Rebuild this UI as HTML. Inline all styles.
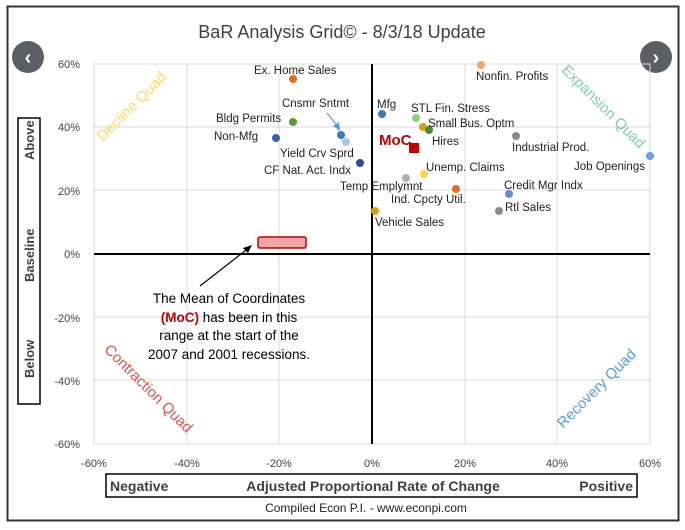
<!DOCTYPE html>
<html><head><style>
body{margin:0;background:#fff;font-family:"Liberation Sans",sans-serif;}
</style></head><body>
<svg width="685" height="525" xmlns="http://www.w3.org/2000/svg" font-family="Liberation Sans, sans-serif">
<rect x="0" y="0" width="685" height="525" fill="#fff"/>
<rect x="7.5" y="6.5" width="671" height="514" fill="#fff" stroke="#333" stroke-width="2"/>
<text x="342" y="38" font-size="18" text-anchor="middle" fill="#404040">BaR Analysis Grid© - 8/3/18 Update</text>
<!-- nav circles -->
<circle cx="28" cy="57" r="16" fill="#5a5f66"/><text x="28" y="64" font-size="20" font-weight="bold" text-anchor="middle" fill="#fff">‹</text>
<circle cx="656" cy="57" r="16" fill="#5a5f66"/><text x="656" y="64" font-size="20" font-weight="bold" text-anchor="middle" fill="#fff">›</text>
<!-- grid -->
<g stroke="#d9d9d9" stroke-width="1">
<rect x="94" y="64" width="556" height="380" fill="none"/>
<line x1="187" y1="64" x2="187" y2="444"/><line x1="279" y1="64" x2="279" y2="444"/>
<line x1="465" y1="64" x2="465" y2="444"/><line x1="557" y1="64" x2="557" y2="444"/>
<line x1="94" y1="127" x2="650" y2="127"/><line x1="94" y1="190" x2="650" y2="190"/>
<line x1="94" y1="317" x2="650" y2="317"/><line x1="94" y1="380" x2="650" y2="380"/>
</g>
<line x1="372" y1="64" x2="372" y2="444" stroke="#000" stroke-width="2"/>
<line x1="94" y1="254" x2="650" y2="254" stroke="#000" stroke-width="2"/>
<g font-size="11" fill="#404040" text-anchor="end">
<text x="80" y="68">60%</text><text x="80" y="131">40%</text><text x="80" y="195">20%</text>
<text x="80" y="258">0%</text><text x="80" y="322">-20%</text><text x="80" y="385">-40%</text><text x="80" y="448">-60%</text>
</g>
<g font-size="11" fill="#404040" text-anchor="middle">
<text x="94" y="467">-60%</text><text x="187" y="467">-40%</text><text x="279" y="467">-20%</text><text x="372" y="467">0%</text>
<text x="465" y="467">20%</text><text x="557" y="467">40%</text><text x="650" y="467">60%</text>
</g>
<!-- quadrant labels -->
<text x="135" y="110" font-size="15" fill="#ffd966" text-anchor="middle" transform="rotate(-45 135 110)">Decline Quad</text>
<text x="600" y="110" font-size="15" fill="#7fd1a0" text-anchor="middle" transform="rotate(45 600 110)">Expansion Quad</text>
<text x="145" y="392" font-size="15" fill="#d9534f" text-anchor="middle" transform="rotate(45 145 392)">Contraction Quad</text>
<text x="600" y="392" font-size="15" fill="#5b9bd5" text-anchor="middle" transform="rotate(-45 600 392)">Recovery Quad</text>
<!-- axis boxes -->
<rect x="18" y="118" width="22" height="286" fill="#fff" stroke="#000" stroke-width="1.5"/>
<g font-size="13" font-weight="bold" fill="#404040">
<text transform="translate(34 378) rotate(-90)">Below</text>
<text transform="translate(34 282) rotate(-90)">Baseline</text>
<text transform="translate(34 160) rotate(-90)">Above</text>
</g>
<rect x="106" y="474" width="531" height="23" fill="#fff" stroke="#000" stroke-width="1.5"/>
<g font-size="14" font-weight="bold" fill="#404040">
<text x="110" y="491">Negative</text>
<text x="373" y="491" text-anchor="middle">Adjusted Proportional Rate of Change</text>
<text x="633" y="491" text-anchor="end">Positive</text>
</g>
<text x="366" y="512" font-size="12" text-anchor="middle" fill="#222">Compiled Econ P.I. - www.econpi.com</text>
<!-- MoC range -->
<rect x="258" y="237" width="48" height="11" rx="2" fill="#f4a6a6" stroke="#c00000" stroke-width="1.5"/>
<line x1="200" y1="286" x2="250" y2="247" stroke="#000" stroke-width="1.2"/>
<polygon points="252,245 243,248 248,253" fill="#000"/>
<g font-size="13.5" fill="#000" text-anchor="middle">
<text x="229" y="303">The Mean of Coordinates</text>
<text x="229" y="322"><tspan fill="#c00000" font-weight="bold">(MoC)</tspan> has been in this</text>
<text x="229" y="340">range at the start of the</text>
<text x="229" y="359">2007 and 2001 recessions.</text>
</g>
<!-- arrow cnsmr -->
<line x1="327" y1="113" x2="338" y2="127" stroke="#5b9bd5" stroke-width="1.2"/>
<polygon points="340,131 333,126 339,122" fill="#5b9bd5"/>
<!-- points -->
<g>
<circle cx="293" cy="79" r="4" fill="#e07020"/>
<circle cx="481" cy="65" r="4" fill="#f4a070"/>
<circle cx="293" cy="122" r="4" fill="#5a9a3a"/>
<circle cx="276" cy="138" r="4" fill="#3a5fb0"/>
<circle cx="341" cy="135" r="4" fill="#3a7abf"/>
<circle cx="346" cy="142" r="4" fill="#a8c8ec"/>
<circle cx="360" cy="163" r="4" fill="#2a4a9a"/>
<circle cx="382" cy="114" r="4" fill="#3a7abf"/>
<circle cx="416" cy="118" r="4" fill="#8fcf7a"/>
<circle cx="423" cy="127" r="4" fill="#d4a010"/>
<circle cx="429" cy="130" r="4" fill="#4a8a2a"/>
<rect x="409" y="143" width="10" height="10" fill="#c00000"/>
<circle cx="424" cy="174" r="4" fill="#ffd24a"/>
<circle cx="406" cy="178" r="4" fill="#b0b0b0"/>
<circle cx="456" cy="189" r="4" fill="#e07020"/>
<circle cx="375" cy="211" r="4" fill="#d4a010"/>
<circle cx="516" cy="136" r="4" fill="#8a8a8a"/>
<circle cx="650" cy="156" r="4" fill="#6fa0e0"/>
<circle cx="509" cy="194" r="4" fill="#6a8ad8"/>
<circle cx="499" cy="211" r="4" fill="#8a8a8a"/>
</g>
<g font-size="11.5" fill="#222">
<text x="254" y="74">Ex. Home Sales</text>
<text x="476" y="80">Nonfin. Profits</text>
<text x="282" y="107">Cnsmr Sntmt</text>
<text x="216" y="122">Bldg Permits</text>
<text x="214" y="140">Non-Mfg</text>
<text x="280" y="157">Yield Crv Sprd</text>
<text x="264" y="174">CF Nat. Act. Indx</text>
<text x="377" y="108">Mfg</text>
<text x="411" y="112">STL Fin. Stress</text>
<text x="428" y="127">Small Bus. Optm</text>
<text x="432" y="145">Hires</text>
<text x="379" y="145" font-size="15" font-weight="bold" fill="#c00000">MoC</text>
<text x="426" y="171">Unemp. Claims</text>
<text x="340" y="190">Temp Emplymnt</text>
<text x="391" y="203">Ind. Cpcty Util.</text>
<text x="375" y="226">Vehicle Sales</text>
<text x="512" y="151">Industrial Prod.</text>
<text x="574" y="170">Job Openings</text>
<text x="504" y="189">Credit Mgr Indx</text>
<text x="505" y="211">Rtl Sales</text>
</g>
</svg>
</body></html>
